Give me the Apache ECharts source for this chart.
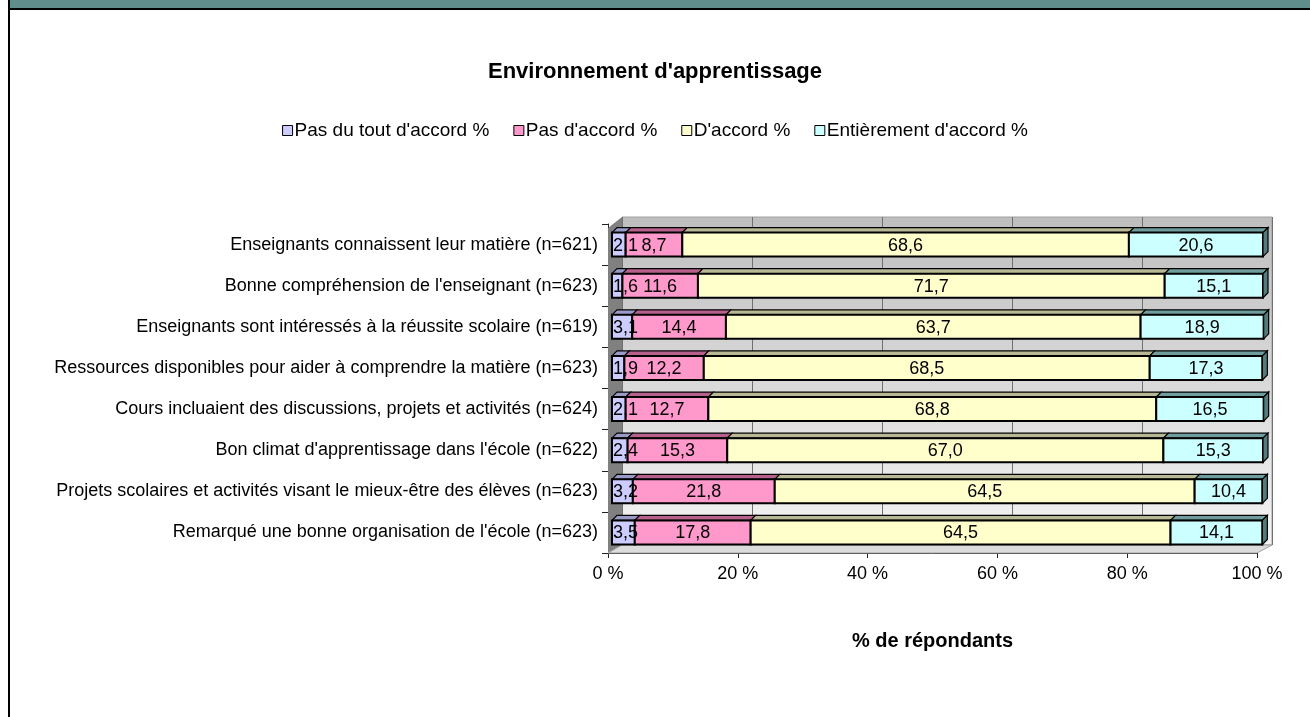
<!DOCTYPE html>
<html>
<head>
<meta charset="utf-8">
<script src="https://cdn.jsdelivr.net/npm/echarts@6/dist/echarts.min.js"></script>
<style>
  html, body { margin: 0; padding: 0; background: #fff; }
  #chart { width: 1310px; height: 717px; }
</style>
</head>
<body>
<div id="chart"></div>
<script>
var categories = [
  "Enseignants connaissent leur matière (n=621)",
  "Bonne compréhension de l'enseignant (n=623)",
  "Enseignants sont intéressés à la réussite scolaire (n=619)",
  "Ressources disponibles pour aider à comprendre la matière (n=623)",
  "Cours incluaient des discussions, projets et activités (n=624)",
  "Bon climat d'apprentissage dans l'école (n=622)",
  "Projets scolaires et activités visant le mieux-être des élèves (n=623)",
  "Remarqué une bonne organisation de l'école (n=623)"
];
var seriesNames = ["Pas du tout d'accord %", "Pas d'accord %", "D'accord %", "Entièrement d'accord %"];
var pasDuTout = [2.1, 1.6, 3.1, 1.9, 2.1, 2.4, 3.2, 3.5];
var pasDaccord = [8.7, 11.6, 14.4, 12.2, 12.7, 15.3, 21.8, 17.8];
var daccord = [68.6, 71.7, 63.7, 68.5, 68.8, 67.0, 64.5, 64.5];
var entierement = [20.6, 15.1, 18.9, 17.3, 16.5, 15.3, 10.4, 14.1];
var xTicks = [0, 20, 40, 60, 80, 100];

var values = [pasDuTout, pasDaccord, daccord, entierement];
var fills = ['#ccccff', '#ff99cc', '#ffffcc', '#ccffff'];
var tops = ['#9a9ac8', '#b8608c', '#b8b894', '#6f9c9c'];
var endFace = '#557a7a';
var font = "'Liberation Sans', Arial, sans-serif";
var labelFont = '18px ' + font;
var barH = 24, depth = 5;

// text width, so narrow segments keep their label starting at the bar edge
var measureCtx = document.createElement('canvas').getContext('2d');
measureCtx.font = labelFont;
function fmt(v) { return v.toFixed(1).replace('.', ','); }

var chartDom = document.getElementById('chart');
var myChart = echarts.init(chartDom);

// stacked segments: [start, end, categoryIndex, value]
var running = categories.map(function () { return 0; });
var series = [];
values.forEach(function (arr, s) {
  var data = arr.map(function (v, c) {
    var start = running[c];
    running[c] += v;
    return [start, start + v, c, v];
  });
  var isLast = s === values.length - 1;
  series.push({
    name: seriesNames[s],
    type: 'custom',
    xAxisIndex: 1,
    yAxisIndex: 1,
    z: 3,
    encode: { x: [0, 1], y: 2 },
    itemStyle: { color: fills[s], borderColor: '#000', borderWidth: 1 },
    data: data,
    renderItem: function (params, api) {
      var c = api.value(2);
      var p0 = api.coord([api.value(0), c]);
      var p1 = api.coord([api.value(1), c]);
      var x0 = p0[0], x1 = p1[0];
      var yt = p0[1] - barH / 2, yb = p0[1] + barH / 2;
      var txt = fmt(api.value(3));
      var tw = measureCtx.measureText(txt).width;
      var tx = Math.max((x0 + x1) / 2, x0 + tw / 2 + 1);
      var children = [
        { type: 'polygon', z2: 1,
          shape: { points: [[x0, yt], [x0 + depth, yt - depth], [x1 + depth, yt - depth], [x1, yt]] },
          style: { fill: tops[s], stroke: '#000', lineWidth: 1.2 } },
        { type: 'rect', z2: 2,
          shape: { x: x0, y: yt, width: x1 - x0, height: barH },
          style: { fill: fills[s], stroke: '#000', lineWidth: 2 } }
      ];
      if (isLast) {
        children.push({ type: 'polygon', z2: 2,
          shape: { points: [[x1, yt], [x1 + depth, yt - depth], [x1 + depth, yb - depth], [x1, yb]] },
          style: { fill: endFace, stroke: '#000', lineWidth: 1.2 } });
      }
      children.push({ type: 'text', z2: 100,
        x: tx, y: p0[1] + 1,
        style: {
          text: txt, fill: '#000', font: labelFont,
          align: 'center', verticalAlign: 'middle'
        } });
      return { type: 'group', children: children };
    }
  });
});

var option = {
  animation: false,
  title: {
    text: "Environnement d'apprentissage",
    left: 'center',
    top: 56,
    textStyle: { fontFamily: font, fontSize: 22, fontWeight: 'bold', color: '#000' }
  },
  legend: {
    data: seriesNames,
    top: 116,
    left: 'center',
    icon: 'rect',
    itemWidth: 10,
    itemHeight: 10,
    itemGap: 24,
    textStyle: { fontFamily: font, fontSize: 19, color: '#000', padding: [0, 0, 0, -3] },
    itemStyle: { borderColor: '#000', borderWidth: 1 }
  },
  graphic: [
    { type: 'rect', shape: { x: 10, y: 0, width: 1300, height: 8 }, style: { fill: '#5f8e8c' }, z: 10 },
    { type: 'rect', shape: { x: 8, y: 8, width: 1302, height: 2 }, style: { fill: '#000' }, z: 10 },
    { type: 'rect', shape: { x: 8, y: 0, width: 2, height: 717 }, style: { fill: '#000' }, z: 10 },
    // side wall and floor of the 3D frame
    { type: 'polygon', z: 1, shape: { points: [[608, 228], [622, 217], [622, 545], [608, 553]] }, style: { fill: '#808080' } },
    { type: 'polygon', z: 1, shape: { points: [[608, 553], [622, 545], [1272, 545], [1257, 553]] },
      style: { fill: '#dcdcdc', stroke: '#a0a0a0', lineWidth: 1 } }
  ],
  grid: [
    // back wall
    { left: 622, right: 38, top: 217, bottom: 172, show: true,
      borderColor: '#a0a0a0', borderWidth: 1,
      backgroundColor: new echarts.graphic.LinearGradient(0, 0, 0, 1, [
        { offset: 0, color: '#bebebe' }, { offset: 1, color: '#f4f4f4' }
      ]) },
    // bars
    { left: 612, right: 47, top: 224, bottom: 164 },
    // front axes
    { left: 608, right: 53, top: 224, bottom: 164 }
  ],
  xAxis: [
    { gridIndex: 0, type: 'value', min: 0, max: 100, interval: 20,
      axisLine: { show: false }, axisTick: { show: false }, axisLabel: { show: false },
      splitLine: { show: true, lineStyle: { color: '#707070', width: 1 } } },
    { gridIndex: 1, type: 'value', min: 0, max: 100, show: false, splitLine: { show: false } },
    { gridIndex: 2, type: 'value', min: 0, max: 100, interval: 20,
      axisLine: { show: true, lineStyle: { color: '#222', width: 1 } },
      axisTick: { show: true, length: 5, lineStyle: { color: '#222' } },
      splitLine: { show: false },
      axisLabel: {
        margin: 12, color: '#000', fontFamily: font, fontSize: 18,
        formatter: function (v) { return v + ' %'; }
      },
      name: '% de répondants',
      nameLocation: 'middle',
      nameGap: 78,
      nameTextStyle: { fontFamily: font, fontSize: 20, fontWeight: 'bold', color: '#000' }
    }
  ],
  yAxis: [
    { gridIndex: 0, type: 'category', data: categories, show: false },
    { gridIndex: 1, type: 'category', data: categories, inverse: true, show: false },
    { gridIndex: 2, type: 'category', data: categories, inverse: true,
      axisLine: { show: true, lineStyle: { color: '#222', width: 1 } },
      axisTick: { show: true, length: 6, lineStyle: { color: '#222' } },
      axisLabel: { margin: 10, color: '#000', fontFamily: font, fontSize: 18 },
      splitLine: { show: false }
    }
  ],
  series: series
};
option && myChart.setOption(option);
</script>
</body>
</html>
